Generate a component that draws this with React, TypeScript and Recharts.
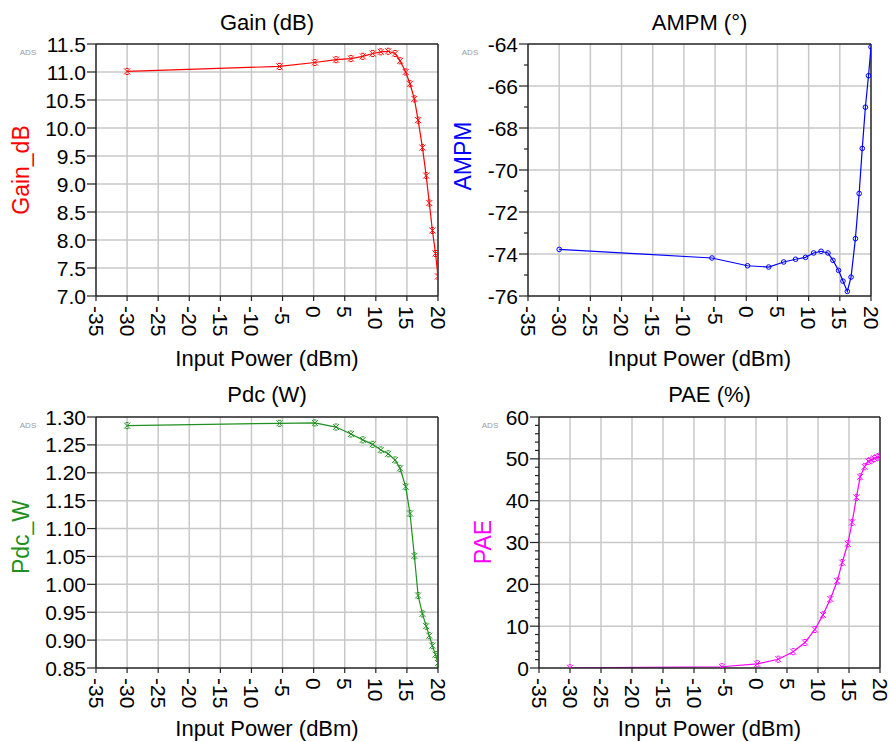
import React from 'react';
import { LineChart, Line, XAxis, YAxis, ReferenceLine } from 'recharts';

// ---- data ----
const inputPower = [-30, -5.5, 0.2, 3.6, 6.0, 7.9, 9.5, 10.8, 12.0, 13.1, 13.9, 14.8, 15.5, 16.2, 16.8, 17.5, 18.1, 18.6, 19.1, 19.6, 20];
const gainDb = [11.01, 11.1, 11.17, 11.22, 11.24, 11.28, 11.33, 11.36, 11.37, 11.33, 11.2, 11.0, 10.79, 10.52, 10.14, 9.65, 9.15, 8.66, 8.17, 7.76, 7.35];
const ampmDeg = [-73.78, -74.19, -74.56, -74.62, -74.38, -74.25, -74.16, -73.95, -73.87, -73.95, -74.3, -74.78, -75.29, -75.78, -75.1, -73.27, -71.12, -68.97, -67.01, -65.51, -64.14];
const pdcW = [1.2845, 1.2887, 1.2893, 1.282, 1.2695, 1.259, 1.251, 1.241, 1.234, 1.223, 1.208, 1.175, 1.127, 1.051, 0.98, 0.947, 0.925, 0.908, 0.89, 0.874, 0.859];
const paePct = [0.05, 0.3, 1.0, 2.1, 3.9, 6.1, 9.2, 12.7, 16.5, 20.8, 25.2, 29.7, 34.8, 40.8, 45.7, 48.1, 49.4, 49.7, 50.1, 50.4, 50.7];

const xTicks = [-35, -30, -25, -20, -15, -10, -5, 0, 5, 10, 15, 20];
const xGrid = [-30, -25, -20, -15, -10, -5, 0, 5, 10, 15];
const gainTicks = [7.0, 7.5, 8.0, 8.5, 9.0, 9.5, 10.0, 10.5, 11.0, 11.5];
const gainGrid = [7.5, 8.0, 8.5, 9.0, 9.5, 10.0, 10.5, 11.0];
const ampmTicks = [-76, -75, -74, -73, -72, -71, -70, -69, -68, -67, -66, -65, -64];
const ampmGrid = [-74, -72, -70, -68, -66];
const pdcTicks = [0.85, 0.9, 0.95, 1.0, 1.05, 1.1, 1.15, 1.2, 1.25, 1.3];
const pdcGrid = [0.9, 0.95, 1.0, 1.05, 1.1, 1.15, 1.2, 1.25];
const paeTicks = [0, 2, 4, 6, 8, 10, 12, 14, 16, 18, 20, 22, 24, 26, 28, 30, 32, 34, 36, 38, 40, 42, 44, 46, 48, 50, 52, 54, 56, 58, 60];
const paeGrid = [10, 20, 30, 40, 50];

const FONT = '"Liberation Sans", Arial, sans-serif';
const AXIS = '#222';
const GRID = '#c8c8c8';

type PanelProps = {
  left: number; top: number; width: number; height: number;
  plotLeft: number; plotTop: number; plotRight: number; plotBottom: number;
  values: number[];
  yDomain: [number, number];
  yTicks: number[];
  yGrid: number[];
  isMajor: (v: number) => boolean;
  fmt: (v: number) => string;
  color: string;
  marker: 'x' | 'o';
};

function Panel(p: PanelProps) {
  const yAxisW = p.plotLeft - p.left;
  const xAxisH = p.top + p.height - p.plotBottom;
  const marginTop = p.plotTop - p.top;
  const marginRight = p.left + p.width - p.plotRight;
  const axisX = yAxisW;
  const axisY = p.plotBottom - p.top;
  const data = inputPower.map((x, i) => ({ x, y: p.values[i] }));

  const yTick = (props: any) => {
    const { y, payload } = props;
    const v = payload.value as number;
    const major = p.isMajor(v);
    return (
      <g>
        <line x1={axisX - (major ? 9 : 4)} x2={axisX} y1={y} y2={y} stroke={AXIS} strokeWidth={1.2} />
        {major && (
          <text x={axisX - 10} y={y} textAnchor="end" dominantBaseline="central" fontSize={21} fill="#000" fontFamily={FONT}>
            {p.fmt(v)}
          </text>
        )}
      </g>
    );
  };

  const xTick = (props: any) => {
    const { x, payload } = props;
    return (
      <g>
        <line x1={x} x2={x} y1={axisY} y2={axisY + 5} stroke={AXIS} strokeWidth={1.2} />
        <text transform={`translate(${x},${axisY + 10}) rotate(90)`} textAnchor="start" dominantBaseline="central" fontSize={21} fill="#000" fontFamily={FONT}>
          {String(payload.value)}
        </text>
      </g>
    );
  };

  const dot = (props: any) => {
    const { cx, cy, index } = props;
    if (cx == null || cy == null) return <g key={`d${index}`} />;
    if (p.marker === 'o') {
      return <circle key={`d${index}`} cx={cx} cy={cy} r={2.3} stroke={p.color} strokeWidth={1} fill="none" />;
    }
    const s = 3;
    return (
      <path
        key={`d${index}`}
        d={`M${cx - s},${cy - s}L${cx + s},${cy + s}M${cx + s},${cy - s}L${cx - s},${cy + s}M${cx - 1.5},${cy - s}H${cx + 1.5}M${cx - 1.5},${cy + s}H${cx + 1.5}`}
        stroke={p.color}
        strokeWidth={1}
        fill="none"
      />
    );
  };

  return (
    <div style={{ position: 'absolute', left: p.left, top: p.top }}>
      <LineChart width={p.width} height={p.height} data={data} margin={{ top: marginTop, right: marginRight, bottom: 0, left: 0 }}>
        <XAxis
          dataKey="x"
          type="number"
          domain={[-35, 20]}
          ticks={xTicks}
          interval={0}
          height={xAxisH}
          tickLine={false}
          axisLine={{ stroke: AXIS, strokeWidth: 1.5 }}
          tick={xTick}
          allowDataOverflow
        />
        <YAxis
          type="number"
          domain={p.yDomain}
          ticks={p.yTicks}
          interval={0}
          width={yAxisW}
          tickLine={false}
          axisLine={{ stroke: AXIS, strokeWidth: 1.5 }}
          tick={yTick}
          allowDataOverflow
        />
        {xGrid.map((v) => (
          <ReferenceLine key={`gx${v}`} x={v} stroke={GRID} strokeWidth={1.5} />
        ))}
        {p.yGrid.map((v) => (
          <ReferenceLine key={`gy${v}`} y={v} stroke={GRID} strokeWidth={1.5} />
        ))}
        <ReferenceLine x={20} stroke={AXIS} strokeWidth={1.5} />
        <ReferenceLine y={p.yDomain[1]} stroke={AXIS} strokeWidth={1.5} />
        <Line
          type="linear"
          dataKey="y"
          stroke={p.color}
          strokeWidth={1.2}
          dot={dot}
          activeDot={false}
          isAnimationActive={false}
        />
      </LineChart>
    </div>
  );
}

const titleStyle = { fontSize: 22, fontFamily: FONT, fill: '#000' };

export default function App() {
  return (
    <div style={{ position: 'absolute', left: 0, top: 0, width: 890, height: 742, background: '#fff', fontFamily: FONT, overflow: 'hidden' }}>
      <Panel
        left={0} top={0} width={458} height={380}
        plotLeft={96} plotTop={44} plotRight={438} plotBottom={296}
        values={gainDb} yDomain={[7, 11.5]} yTicks={gainTicks} yGrid={gainGrid}
        isMajor={() => true} fmt={(v) => v.toFixed(1)} color="#ff0000" marker="x"
      />
      <Panel
        left={445} top={0} width={445} height={380}
        plotLeft={528} plotTop={44} plotRight={871} plotBottom={296}
        values={ampmDeg} yDomain={[-76, -64]} yTicks={ampmTicks} yGrid={ampmGrid}
        isMajor={(v) => Math.abs(v) % 2 === 0} fmt={(v) => String(v)} color="#0000ff" marker="o"
      />
      <Panel
        left={0} top={380} width={458} height={362}
        plotLeft={96} plotTop={417} plotRight={438} plotBottom={668}
        values={pdcW} yDomain={[0.85, 1.3]} yTicks={pdcTicks} yGrid={pdcGrid}
        isMajor={() => true} fmt={(v) => v.toFixed(2)} color="#1f8f1f" marker="x"
      />
      <Panel
        left={445} top={380} width={445} height={362}
        plotLeft={539} plotTop={417} plotRight={880} plotBottom={668}
        values={paePct} yDomain={[0, 60]} yTicks={paeTicks} yGrid={paeGrid}
        isMajor={(v) => v % 10 === 0} fmt={(v) => String(v)} color="#ff00ff" marker="x"
      />
      <svg width={890} height={742} style={{ position: 'absolute', left: 0, top: 0, pointerEvents: 'none' }}>
        <text x={267} y={22} textAnchor="middle" dominantBaseline="central" style={titleStyle}>Gain (dB)</text>
        <text x={699.5} y={22} textAnchor="middle" dominantBaseline="central" style={titleStyle}>AMPM (°)</text>
        <text x={267} y={394} textAnchor="middle" dominantBaseline="central" style={titleStyle}>Pdc (W)</text>
        <text x={709.5} y={394} textAnchor="middle" dominantBaseline="central" style={titleStyle}>PAE (%)</text>

        <text x={267} y={358} textAnchor="middle" dominantBaseline="central" style={titleStyle}>Input Power (dBm)</text>
        <text x={699.5} y={358} textAnchor="middle" dominantBaseline="central" style={titleStyle}>Input Power (dBm)</text>
        <text x={267} y={728} textAnchor="middle" dominantBaseline="central" style={titleStyle}>Input Power (dBm)</text>
        <text x={709.5} y={728} textAnchor="middle" dominantBaseline="central" style={titleStyle}>Input Power (dBm)</text>

        <text transform="translate(21,170) rotate(-90)" textAnchor="middle" dominantBaseline="central" fontSize={23} fontFamily={FONT} fill="#ff0000">Gain_dB</text>
        <text transform="translate(463,156) rotate(-90)" textAnchor="middle" dominantBaseline="central" fontSize={23} fontFamily={FONT} fill="#0000ff">AMPM</text>
        <text transform="translate(21,537) rotate(-90)" textAnchor="middle" dominantBaseline="central" fontSize={23} fontFamily={FONT} fill="#1f8f1f">Pdc_W</text>
        <text transform="translate(483,542) rotate(-90)" textAnchor="middle" dominantBaseline="central" fontSize={23} fontFamily={FONT} fill="#ff00ff">PAE</text>

        <text x={28} y={52.5} textAnchor="middle" dominantBaseline="central" fontSize={8} fontFamily={FONT} fill="#9a9a9a">ADS</text>
        <text x={470} y={52.5} textAnchor="middle" dominantBaseline="central" fontSize={8} fontFamily={FONT} fill="#9a9a9a">ADS</text>
        <text x={28} y={425} textAnchor="middle" dominantBaseline="central" fontSize={8} fontFamily={FONT} fill="#9a9a9a">ADS</text>
        <text x={490} y={425} textAnchor="middle" dominantBaseline="central" fontSize={8} fontFamily={FONT} fill="#9a9a9a">ADS</text>
      </svg>
    </div>
  );
}
